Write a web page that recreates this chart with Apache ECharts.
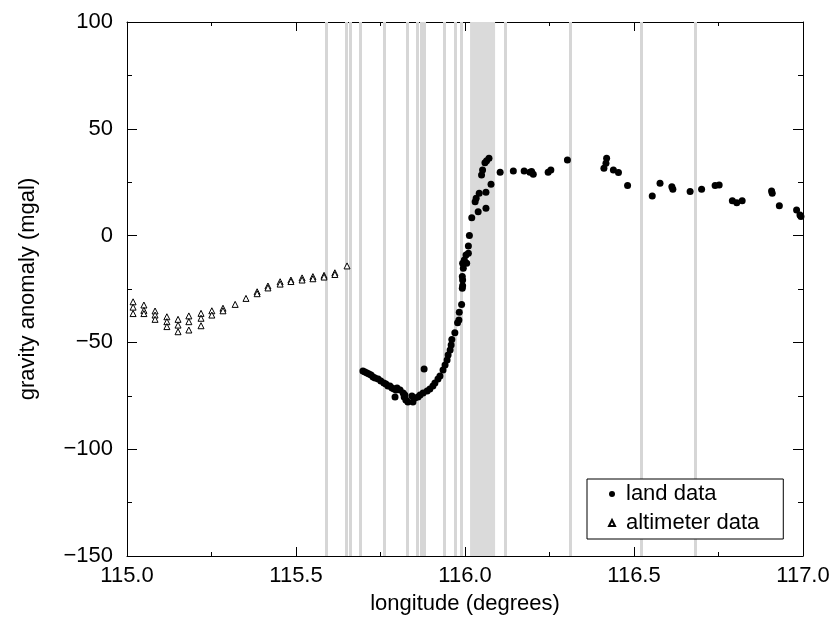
<!DOCTYPE html>
<html><head><meta charset="utf-8">
<script src="https://cdn.jsdelivr.net/npm/echarts@6/dist/echarts.min.js"></script>
<style>html,body{margin:0;padding:0;background:#fff}#c{width:836px;height:623px}</style>
</head><body><div id="c"></div>
<script>
// land data (longitude, mgal)
const landLon = [115.698,115.704,115.710,115.716,115.722,115.728,115.734,115.743,115.751,115.760,115.766,115.772,115.778,115.784,115.790,115.793,115.796,115.799,115.808,115.817,115.820,115.822,115.825,115.831,115.843,115.846,115.852,115.861,115.867,115.876,115.879,115.888,115.896,115.905,115.911,115.920,115.926,115.935,115.941,115.947,115.950,115.956,115.959,
115.961,115.970,115.978,115.982,115.983,115.990,115.992,115.993,115.993,115.992,115.995,115.993,115.998,116.005,116.003,116.010,116.010,116.013,116.020,116.030,116.033,116.042,116.039,116.062,116.062,116.077,116.049,116.052,116.059,116.064,116.071,
116.104,116.143,116.175,116.192,116.197,116.202,116.246,116.254,116.303,116.411,116.417,116.419,116.439,116.454,116.481,116.554,116.577,116.612,116.615,116.666,116.700,116.740,116.752,116.791,116.804,116.820,116.907,116.909,116.930,116.981,116.991,116.994];
const landVal = [-63.4,-63.9,-64.3,-64.8,-65.3,-66.2,-66.7,-67.1,-68.1,-69.0,-69.5,-70.4,-70.4,-71.4,-71.8,-75.6,-72.3,-71.4,-72.3,-73.7,-75.6,-74.6,-77.0,-77.9,-75.1,-77.9,-76.0,-75.6,-74.6,-73.7,-62.5,-72.8,-71.8,-70.4,-69.0,-67.1,-65.7,-62.9,-60.6,-58.2,-55.9,-53.6,-51.2,
-48.6,-45.5,-40.8,-39.5,-35.9,-32.2,-24.7,-23.5,-20.8,-19.2,-15.3,-13.0,-11.4,-13.0,-9.1,-8.3,-4.9,0.0,8.4,15.9,17.5,19.8,11.2,12.8,20.3,24.0,28.4,30.7,34.1,35.1,36.2,
29.6,30.2,30.2,29.6,30.0,28.7,29.6,30.7,35.4,31.5,33.9,36.2,30.7,29.5,23.4,18.5,24.5,22.9,21.7,20.6,21.7,23.4,23.7,16.3,15.4,16.3,20.9,19.8,14.0,12.0,9.6,9.0];
// altimeter data
const altLon = [115.018,115.018,115.018,115.050,115.050,115.050,115.083,115.083,115.083,115.118,115.118,115.118,115.151,115.151,115.151,115.183,115.183,115.183,115.219,115.219,115.219,115.251,115.251,115.284,115.284,115.320,115.352,115.385,115.385,115.417,115.417,115.453,115.453,115.485,115.485,115.518,115.518,115.550,115.550,115.583,115.583,115.615,115.615,115.651];
const altVal = [-31,-33.5,-36.5,-32.5,-35,-36.5,-35.3,-37.2,-39.2,-38,-40.3,-42.6,-39.2,-41.9,-45,-37.6,-40.3,-44.2,-36.4,-38.7,-42.2,-35.2,-37.2,-34,-35.2,-32.2,-29.4,-26.3,-27.2,-23.6,-24.5,-21.6,-22.7,-20.8,-21.5,-19.8,-20.8,-19.2,-20.2,-18.6,-19.4,-17.4,-18.2,-14.2];
// grey vertical markers and band
const greyLines = [115.593,115.647,115.662,115.693,115.756,115.825,115.856,115.873,115.883,115.943,115.971,115.994,116.121,116.312,116.515,116.677];
const greyBand = [116.015,116.089];
const seriesNames = ['land data','altimeter data'];

const FONT = 'Liberation Sans, Arial, Helvetica, sans-serif';
const fmtY = v => v < 0 ? '\u2212' + Math.abs(v) : String(v);
const chart = echarts.init(document.getElementById('c'));
function frameAxis(extra, tickLen, minorLen){
  return Object.assign({
    axisLine:{show:true,onZero:false,lineStyle:{color:'#000',width:1}},
    axisTick:{show:true,inside:true,length:tickLen,lineStyle:{color:'#000'}},
    minorTick:{show:true,splitNumber:2,length:minorLen,lineStyle:{color:'#000'}},
    splitLine:{show:false}
  }, extra);
}
chart.setOption({
  animation:false,
  backgroundColor:'#fff',
  textStyle:{fontFamily:FONT},
  grid:{left:127,right:33,top:22,bottom:67},
  xAxis:[
    frameAxis({type:'value',min:115,max:117,interval:0.5,position:'bottom',
      name:'longitude (degrees)',nameLocation:'middle',nameGap:37,
      nameTextStyle:{fontSize:22,color:'#000',fontFamily:FONT},
      axisLabel:{fontSize:22,color:'#000',margin:9,fontFamily:FONT,formatter:v=>v.toFixed(1)}},9,4),
    frameAxis({type:'value',min:115,max:117,interval:0.5,position:'top',axisLabel:{show:false}},9,4)
  ],
  yAxis:[
    frameAxis({type:'value',min:-150,max:100,interval:50,position:'left',
      name:'gravity anomaly (mgal)',nameLocation:'middle',nameGap:88,
      nameTextStyle:{fontSize:22,color:'#000',fontFamily:FONT},
      axisLabel:{fontSize:22,color:'#000',margin:14,fontFamily:FONT,formatter:fmtY}},10,5),
    frameAxis({type:'value',min:-150,max:100,interval:50,position:'right',axisLabel:{show:false}},10,5)
  ],
  legend:{
    z:10,
    data:[{name:seriesNames[0],icon:'circle'},{name:seriesNames[1],icon:'triangle'}],
    orient:'vertical',left:587,top:479,
    backgroundColor:'#fff',borderColor:'#000',borderWidth:1,borderRadius:0,
    padding:[4,24,5,21],itemWidth:6,itemHeight:6,itemGap:7,
    textStyle:{fontSize:22,color:'#000',fontFamily:FONT,padding:[0,0,0,6]}
  },
  series:[
    {name:'markers',type:'scatter',data:[],z:1,silent:true,
      markLine:{z:1,silent:true,symbol:['none','none'],label:{show:false},
        lineStyle:{color:'#d6d6d6',width:3,type:'solid'},
        data:greyLines.map(v=>({xAxis:v}))},
      markArea:{z:1,silent:true,itemStyle:{color:'#dadada'},
        data:[[{xAxis:greyBand[0]},{xAxis:greyBand[1]}]]}},
    {name:seriesNames[0],type:'scatter',z:3,symbol:'circle',symbolSize:7,
      itemStyle:{color:'#000',opacity:1},
      data:landLon.map((x,i)=>[x,landVal[i]])},
    {name:seriesNames[1],type:'scatter',z:3,symbol:'triangle',symbolSize:6,
      itemStyle:{color:'#fff',borderColor:'#000',borderWidth:1,opacity:1},
      data:altLon.map((x,i)=>[x,altVal[i]])}
  ]
});
</script></body></html>
